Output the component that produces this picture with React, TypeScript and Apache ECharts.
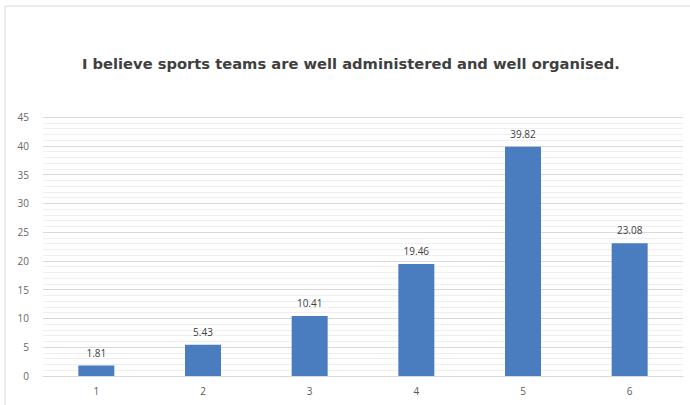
import React, { useEffect, useRef } from "react";
import * as echarts from "echarts";

const categories = ["1", "2", "3", "4", "5", "6"];
const values = [1.81, 5.43, 10.41, 19.46, 39.82, 23.08];
const titleText = "I believe sports teams are well administered and well organised.";

export default function App() {
  const ref = useRef<HTMLDivElement>(null);
  useEffect(() => {
    const chart = echarts.init(ref.current!, null, { renderer: "svg" });
    chart.setOption({
      animation: false,
      backgroundColor: "#ffffff",
      title: {
        text: titleText,
        left: 82,
        top: 56,
        padding: 0,
        textStyle: { fontFamily: "DejaVu Sans", fontSize: 14.7, fontWeight: "bold", color: "#404040" },
      },
      graphic: [
        {
          type: "rect",
          shape: { x: 5, y: 6, width: 700, height: 420 },
          style: { fill: "none", stroke: "#d9d9d9", lineWidth: 1 },
          silent: true,
        },
      ],
      grid: { left: 43, right: 7, top: 117, bottom: 29, containLabel: false },
      xAxis: {
        type: "category",
        data: categories,
        axisLine: { show: true, lineStyle: { color: "#d9d9d9" } },
        axisTick: { show: false },
        axisLabel: { color: "#595959", fontSize: 10, fontFamily: "Open Sans", margin: 10 },
      },
      yAxis: {
        type: "value",
        min: 0,
        max: 45,
        interval: 5,
        axisLine: { show: false },
        axisTick: { show: false },
        axisLabel: { color: "#666666", fontSize: 10, fontFamily: "Open Sans", margin: 14 },
        splitLine: { show: true, lineStyle: { color: "#d9d9d9", width: 1 } },
        minorTick: { show: false, splitNumber: 5 },
        minorSplitLine: { show: true, lineStyle: { color: "#efefef", width: 1 } },
      },
      series: [
        {
          type: "bar",
          data: values,
          barWidth: 36,
          itemStyle: { color: "#4A7CC0" },
          label: {
            show: true,
            position: "top",
            distance: 8,
            color: "#404040",
            fontSize: 10,
            fontFamily: "Open Sans",
            formatter: (p: any) => p.value.toFixed(2),
          },
        },
      ],
    });
    return () => chart.dispose();
  }, []);
  return <div ref={ref} style={{ width: 690, height: 405, position: "absolute", left: 0, top: 0 }} />;
}
